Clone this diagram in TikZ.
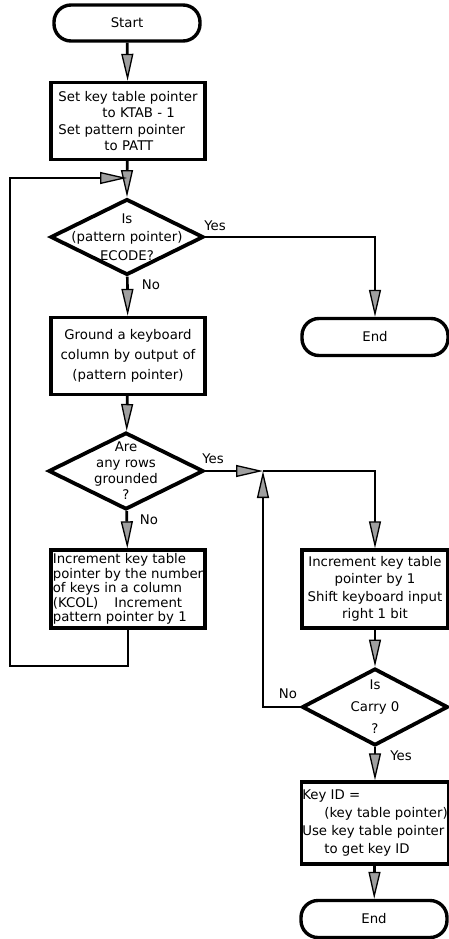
\documentclass[tikz,border=0pt]{standalone}
\usepackage{fontspec}
\setmainfont{DejaVu Sans}
\usetikzlibrary{arrows.meta, positioning, shapes.geometric}

\begin{document}
\begin{tikzpicture}[x=1pt, y=-1pt,
    term/.style={draw, line width=3.4pt, rounded corners=17pt, minimum width=146pt, minimum height=36pt, inner sep=0pt, font=\fontsize{13.3}{16.5}\selectfont},
    proc/.style={draw, line width=3.4pt, minimum width=154pt, minimum height=77pt, inner sep=1pt, font=\fontsize{13.3}{16.5}\selectfont},
    dec/.style={draw, diamond, line width=3.8pt, inner sep=0pt},
    txt/.style={font=\fontsize{13.3}{#1}\selectfont, align=center, inner sep=0pt},
    lbl/.style={font=\fontsize{13.3}{16}\selectfont, inner sep=0pt},
    wire/.style={line width=2.7pt},
    flow/.style={wire, -{Triangle[length=27pt, width=12pt, fill=gray!75, line width=1.3pt]}}]
    \useasboundingbox (0,0) rectangle (448,939);
    % left column
    \node[term] (start) at (127,23) {Start};
    \node[proc, align=left] (setptr) at (128,121) {Set key table pointer\\\hspace*{44pt}to KTAB - 1\\Set pattern pointer\\\hspace*{46pt}to PATT};
    \coordinate (loopin) at (127,178);
    \node[dec, minimum width=153pt, minimum height=76pt,
        label={[txt=18.5]center:Is\\(pattern pointer)\\ECODE?}] (isend) at (127,237) {};
    \node[proc, align=center, font=\fontsize{13.3}{20}\selectfont] (ground) at (128,356) {Ground a keyboard\\column by output of\\(pattern pointer)};
    \node[dec, minimum width=155pt, minimum height=77pt,
        label={[txt=16]center:Are\\any rows\\grounded\\?}] (anyrow) at (126,471) {};
    \node[proc, align=left, minimum height=78pt, font=\fontsize{13.3}{14.5}\selectfont] (inccol) at (128,589) {Increment key table\\pointer by the number\\of keys in a column\\(KCOL)\hspace{1.2em}Increment\\pattern pointer by 1};
    \coordinate (loopbl) at (10,666);
    % right column
    \node[term, minimum height=37pt] (end1) at (375,337) {End};
    \coordinate (join) at (263,471);
    \node[proc, align=center, minimum width=146pt, minimum height=78pt, font=\fontsize{13.3}{17.5}\selectfont] (shift) at (375,589) {Increment key table\\pointer by 1\\Shift keyboard input\\right 1 bit};
    \node[dec, minimum width=146pt, minimum height=77pt,
        label={[txt=22]center:Is\\Carry 0\\?}] (carry) at (375,707) {};
    \node[proc, align=left, minimum width=146pt, minimum height=82pt, font=\fontsize{13.3}{17.7}\selectfont] (keyid) at (375,823) {Key ID =\\\hspace*{22pt}(key table pointer)\\Use key table pointer\\\hspace*{22pt}to get key ID};
    \node[term, minimum height=37pt] (end2) at (374,919) {End};
    % branch labels
    \node[lbl] (yes1) at (215,226) {Yes};
    \node[lbl] (no1) at (151,285) {No};
    \node[lbl] (yes2) at (213,459) {Yes};
    \node[lbl] (no2) at (149,520) {No};
    \node[lbl] (no3) at (288,694) {No};
    \node[lbl] (yes3) at (401,756) {Yes};
    % connectors
    \draw[flow] (start) -- (setptr);
    \draw[wire] (setptr) -- (loopin);
    \draw[flow] (loopin) -- (isend);
    \draw[flow] (isend.east) -| (end1.north);
    \draw[flow] (isend) -- (ground);
    \draw[flow] (ground) -- (anyrow);
    \draw[flow] (anyrow) -- (inccol);
    \draw[flow] (inccol.south) |- (loopbl) |- (loopin);
    \draw[flow] (anyrow.east) -- (join);
    \draw[flow] (join) -| (shift.north);
    \draw[flow] (shift) -- (carry);
    \draw[flow] (carry.west) -| (join);
    \draw[flow] (carry) -- (keyid);
    \draw[flow] (keyid) -- (end2);
\end{tikzpicture}
\end{document}
